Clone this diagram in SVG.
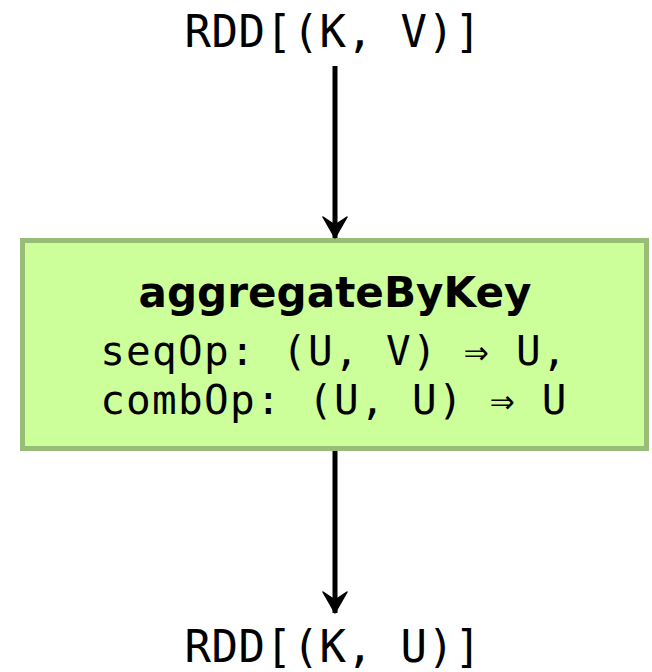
<svg xmlns="http://www.w3.org/2000/svg" width="652" height="672" viewBox="0 0 652 672">
  <style>
    .mono { font-family: "DejaVu Sans Mono", "Liberation Mono", monospace; fill: #000; }
    .sig { letter-spacing: 1.3px; }
    .title { font-family: "DejaVu Sans", "Liberation Sans", sans-serif; font-weight: bold; fill: #000; }
    .edge { stroke: #000; stroke-width: 5; fill: none; }
    .box { fill: #ccff99; stroke: #97bd76; stroke-width: 5; }
  </style>
  <defs>
    <!-- notched arrowhead, tip at the end of the line -->
    <marker id="arrow" markerUnits="userSpaceOnUse" markerWidth="24" markerHeight="26" refX="22" refY="13" orient="auto" viewBox="0 0 24 26">
      <path d="M1,1 L22,13 L1,25 L9,13 Z" fill="#000" stroke="#000" stroke-width="1.5" stroke-linejoin="round"/>
    </marker>
  </defs>
  <rect width="652" height="672" fill="#fff"/>

  <g id="input">
    <text class="mono" x="333" y="47" font-size="44" text-anchor="middle" letter-spacing="0.5">RDD[(K, V)]</text>
  </g>

  <g id="aggregate">
    <rect class="box" x="22.5" y="240.5" width="624" height="208"/>
    <text class="title" x="335" y="307" font-size="43" text-anchor="middle" textLength="393" lengthAdjust="spacingAndGlyphs">aggregateByKey</text>
    <text class="mono sig" x="334" y="365" font-size="41" text-anchor="middle">seqOp: (U, V) ⇒ U,</text>
    <text class="mono sig" x="334" y="414" font-size="41" text-anchor="middle">combOp: (U, U) ⇒ U</text>
  </g>

  <g id="output">
    <text class="mono" x="333" y="662" font-size="44" text-anchor="middle" letter-spacing="0.5">RDD[(K, U)]</text>
  </g>

  <g id="connectors">
    <line class="edge" x1="335" y1="66" x2="335" y2="238" marker-end="url(#arrow)"/>
    <line class="edge" x1="335" y1="451" x2="335" y2="613" marker-end="url(#arrow)"/>
  </g>
</svg>
